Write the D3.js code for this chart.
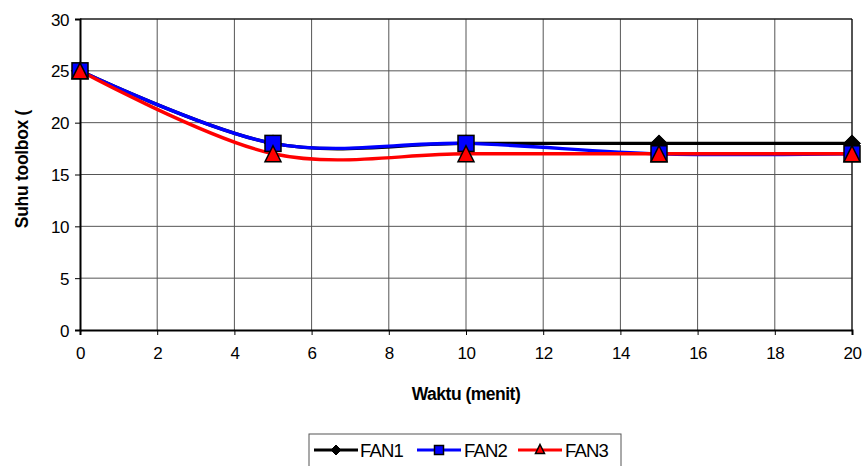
<!DOCTYPE html>
<html>
<head>
<meta charset="utf-8">
<script src="https://cdn.jsdelivr.net/npm/d3@7"></script>
<style>
  html, body { margin: 0; padding: 0; background: #fff; }
  svg { display: block; font-family: "Liberation Sans", Arial, sans-serif; }
</style>
</head>
<body>
<svg id="chart" width="865" height="466"></svg>
<script>
// Time in minutes and measured toolbox temperature for each fan
const waktu = [0, 5, 10, 15, 20];
const fan1 = [25, 18, 18, 18, 18];
const fan2 = [25, 18, 18, 17, 17];
const fan3 = [25, 17, 17, 17, 17];
const seriesNames = ["FAN1", "FAN2", "FAN3"];
const xTicks = [0, 2, 4, 6, 8, 10, 12, 14, 16, 18, 20];
const yTicks = [0, 5, 10, 15, 20, 25, 30];

const svg = d3.select("#chart");
const plotL = 80, plotR = 852, plotT = 19, plotB = 330;

const x = d3.scaleLinear().domain([0, 20]).range([plotL, plotR]);
const y = d3.scaleLinear().domain([0, 30]).range([plotB, plotT]);

// grid
const grid = svg.append("g");
grid.selectAll("line.v").data(xTicks.slice(1)).join("line")
  .attr("x1", d => x(d)).attr("x2", d => x(d))
  .attr("y1", plotT).attr("y2", plotB)
  .attr("stroke", "#555").attr("stroke-width", 1);
grid.selectAll("line.h").data(yTicks.slice(1)).join("line")
  .attr("x1", plotL).attr("x2", plotR)
  .attr("y1", d => y(d)).attr("y2", d => y(d))
  .attr("stroke", "#555").attr("stroke-width", 1);

// axes
const xAxis = svg.append("g").attr("transform", `translate(0,${plotB})`)
  .call(d3.axisBottom(x).tickValues(xTicks).tickSize(5).tickPadding(12));
const yAxis = svg.append("g").attr("transform", `translate(${plotL},0)`)
  .call(d3.axisLeft(y).tickValues(yTicks).tickSize(5).tickPadding(6));
[xAxis, yAxis].forEach(a => {
  a.select(".domain").attr("stroke", "#000").attr("stroke-width", 2);
  a.selectAll(".tick line").attr("stroke", "#000").attr("stroke-width", 1);
  a.selectAll(".tick text").attr("fill", "#000")
    .style("font-size", "17px").style("letter-spacing", "-0.5px")
    .style("font-family", "'Liberation Sans', Arial, sans-serif");
});
yAxis.selectAll(".tick text").attr("dy", "0.36em");

const series = [
  { name: seriesNames[0], values: fan1, color: "#000000", shape: "diamond" },
  { name: seriesNames[1], values: fan2, color: "#0000ff", shape: "square" },
  { name: seriesNames[2], values: fan3, color: "#ff0000", shape: "triangle" }
];

const line = d3.line()
  .x((d, i) => x(waktu[i]))
  .y(d => y(d))
  .curve(d3.curveCatmullRom.alpha(0));

function marker(g, shape, color, cx, cy, s) {
  if (shape === "diamond") {
    g.append("path")
      .attr("d", `M${cx},${cy - s}L${cx + s},${cy}L${cx},${cy + s}L${cx - s},${cy}Z`)
      .attr("fill", "#000").attr("stroke", "#000").attr("stroke-width", 1);
  } else if (shape === "square") {
    g.append("rect").attr("x", cx - s).attr("y", cy - s)
      .attr("width", 2 * s).attr("height", 2 * s)
      .attr("fill", color).attr("stroke", "#000").attr("stroke-width", 1.5);
  } else {
    g.append("path")
      .attr("d", `M${cx},${cy - s}L${cx + s},${cy + s}L${cx - s},${cy + s}Z`)
      .attr("fill", color).attr("stroke", "#000").attr("stroke-width", 1.5)
      .attr("stroke-linejoin", "miter");
  }
}

// plot border on top and right
svg.append("line").attr("x1", plotL).attr("x2", plotR).attr("y1", plotT).attr("y2", plotT)
  .attr("stroke", "#000").attr("stroke-width", 1);
svg.append("line").attr("x1", plotR).attr("x2", plotR).attr("y1", plotT).attr("y2", plotB)
  .attr("stroke", "#000").attr("stroke-width", 1);

series.forEach(s => {
  svg.append("path").datum(s.values)
    .attr("d", line).attr("fill", "none")
    .attr("stroke", s.color).attr("stroke-width", 3.4);
});
series.forEach(s => {
  const g = svg.append("g");
  s.values.forEach((v, i) => {
    const size = s.shape === "diamond" ? 8.5 : 8;
    marker(g, s.shape, s.color, x(waktu[i]), y(v), size);
  });
});

// axis titles
svg.append("text").attr("x", 466).attr("y", 400).attr("text-anchor", "middle")
  .style("font-size", "17.5px").style("font-weight", "bold").style("letter-spacing", "-0.5px")
  .text("Waktu (menit)");
svg.append("text").attr("transform", "translate(28,169) rotate(-90)")
  .attr("text-anchor", "middle")
  .style("font-size", "17.5px").style("font-weight", "bold").style("letter-spacing", "-0.3px")
  .text("Suhu toolbox (");

// legend
const lg = svg.append("g");
lg.append("rect").attr("x", 309).attr("y", 434).attr("width", 312).attr("height", 40)
  .attr("fill", "#fff").attr("stroke", "#555").attr("stroke-width", 1);
const legendPos = [
  { x1: 314, x2: 358, tx: 360 },
  { x1: 417, x2: 461, tx: 464 },
  { x1: 518, x2: 562, tx: 565 }
];
series.forEach((s, i) => {
  const p = legendPos[i];
  lg.append("line").attr("x1", p.x1).attr("x2", p.x2).attr("y1", 450).attr("y2", 450)
    .attr("stroke", s.color).attr("stroke-width", 3);
  marker(lg, s.shape, s.color, (p.x1 + p.x2) / 2, s.shape === "triangle" ? 449 : 450,
    s.shape === "diamond" ? 5 : 4.5);
  lg.append("text").attr("x", p.tx).attr("y", 457)
    .style("font-size", "18.5px").style("letter-spacing", "-0.8px")
    .text(s.name);
});
</script>
</body>
</html>
